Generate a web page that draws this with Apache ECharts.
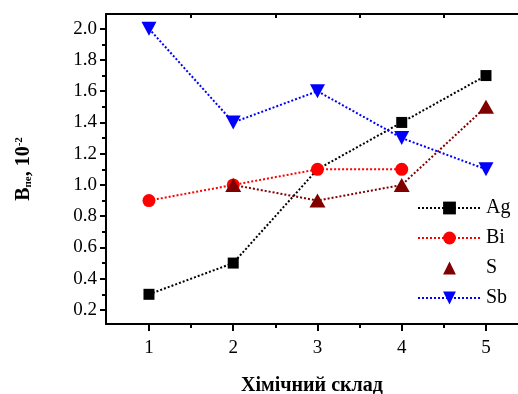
<!DOCTYPE html>
<html>
<head>
<meta charset="utf-8">
<script src="https://cdn.jsdelivr.net/npm/echarts@6/dist/echarts.min.js"></script>
<style>
  html, body { margin: 0; padding: 0; background: #fff; }
  #chart { width: 518px; height: 394px; }
</style>
</head>
<body>
<div id="chart"></div>
<script>
var categories = [1, 2, 3, 4, 5];
var agValues = [0.3, 0.5, 1.1, 1.4, 1.7];
var biValues = [0.9, 1.0, 1.1, 1.1, null];
var sValues = [null, 1.0, 0.9, 1.0, 1.5];
var sbValues = [2.0, 1.4, 1.6, 1.3, 1.1];
var yTicks = [0.2, 0.4, 0.6, 0.8, 1.0, 1.2, 1.4, 1.6, 1.8, 2.0];
var yMinorTicks = [0.3, 0.5, 0.7, 0.9, 1.1, 1.3, 1.5, 1.7, 1.9];
var xMinorTicks = [1.5, 2.5, 3.5, 4.5];

var dom = document.getElementById('chart');
var chart = echarts.init(dom);

var serif = '"Liberation Serif", "DejaVu Serif", serif';

function pairs(vals) {
  return categories.map(function (c, i) { return [c, vals[i]]; });
}

function lineSeries(name, vals, color, symbol, size, rotate) {
  return {
    name: name,
    type: 'line',
    data: pairs(vals),
    symbol: symbol,
    symbolSize: size,
    symbolRotate: rotate || 0,
    connectNulls: false,
    itemStyle: { color: color },
    lineStyle: { color: color, type: 'dotted', width: 2 },
    z: 3
  };
}

var agSeries = lineSeries('Ag', agValues, '#000000', 'rect', 11);
// the Ag point at 3 sits under the Bi circle
agSeries.data[2] = { value: agSeries.data[2], symbolSize: 8 };

var option = {
  animation: false,
  grid: { left: 106, right: 0, top: 14, bottom: 70, outerBoundsMode: 'none', containLabel: false },
  legend: {
    orient: 'vertical',
    left: 417,
    top: 198,
    padding: 0,
    itemWidth: 63,
    itemHeight: 16,
    itemGap: 10,
    textStyle: { fontFamily: serif, fontSize: 20, color: '#000' },
    data: [
      { name: 'Ag' },
      { name: 'Bi' },
      { name: 'S', lineStyle: { opacity: 0 } },
      { name: 'Sb' }
    ]
  },
  xAxis: [
    {
      type: 'value',
      min: 0.49,
      max: 5.38,
      name: 'Хімічний склад',
      nameLocation: 'middle',
      nameGap: 52,
      nameTextStyle: { fontFamily: serif, fontSize: 20, fontWeight: 'bold', color: '#000' },
      axisLine: { show: true, onZero: false, lineStyle: { color: '#000', width: 2 } },
      axisTick: { show: true, length: 7, lineStyle: { color: '#000', width: 2 }, customValues: categories },
      axisLabel: { fontFamily: serif, fontSize: 19, color: '#000', margin: 15, customValues: categories },
      splitLine: { show: false }
    },
    {
      type: 'value',
      position: 'bottom',
      min: 0.49,
      max: 5.38,
      axisLine: { show: false },
      axisTick: { show: true, length: 4, lineStyle: { color: '#000', width: 2 }, customValues: xMinorTicks },
      axisLabel: { show: false },
      splitLine: { show: false }
    },
    {
      type: 'value',
      position: 'top',
      min: 0.49,
      max: 5.38,
      axisLine: { show: true, lineStyle: { color: '#000', width: 2 } },
      axisTick: { show: true, inside: true, length: 4, lineStyle: { color: '#000', width: 2 }, customValues: xMinorTicks },
      axisLabel: { show: false },
      splitLine: { show: false }
    }
  ],
  yAxis: [
    {
      type: 'value',
      min: 0.11,
      max: 2.094,
      name: '{b|B}{sub|пе}{b|, 10}{sup|-2}',
      nameLocation: 'middle',
      nameGap: 72,
      nameTextStyle: {
        rich: {
          b: { fontFamily: serif, fontSize: 20, fontWeight: 'bold', color: '#000' },
          sub: { fontFamily: serif, fontSize: 11, fontWeight: 'bold', color: '#000', verticalAlign: 'bottom', padding: [8, 0, 0, 0] },
          sup: { fontFamily: serif, fontSize: 11, fontWeight: 'bold', color: '#000', verticalAlign: 'top', padding: [0, 0, 8, 0] }
        }
      },
      axisLine: { show: true, onZero: false, lineStyle: { color: '#000', width: 2 } },
      axisTick: { show: true, length: 6, lineStyle: { color: '#000', width: 2 }, customValues: yTicks },
      axisLabel: {
        fontFamily: serif, fontSize: 19, color: '#000', margin: 9,
        customValues: yTicks,
        formatter: function (v) { return v.toFixed(1); }
      },
      splitLine: { show: false }
    },
    {
      type: 'value',
      position: 'left',
      min: 0.11,
      max: 2.094,
      axisLine: { show: false },
      axisTick: { show: true, length: 4, lineStyle: { color: '#000', width: 2 }, customValues: yMinorTicks },
      axisLabel: { show: false },
      splitLine: { show: false }
    }
  ],
  series: [
    agSeries,
    lineSeries('Bi', biValues, '#ff0000', 'circle', 13),
    lineSeries('S', sValues, '#800000', 'triangle', [16, 14]),
    lineSeries('Sb', sbValues, '#0000ff', 'triangle', [15, 14], 180)
  ]
};

option && chart.setOption(option);
</script>
</body>
</html>
